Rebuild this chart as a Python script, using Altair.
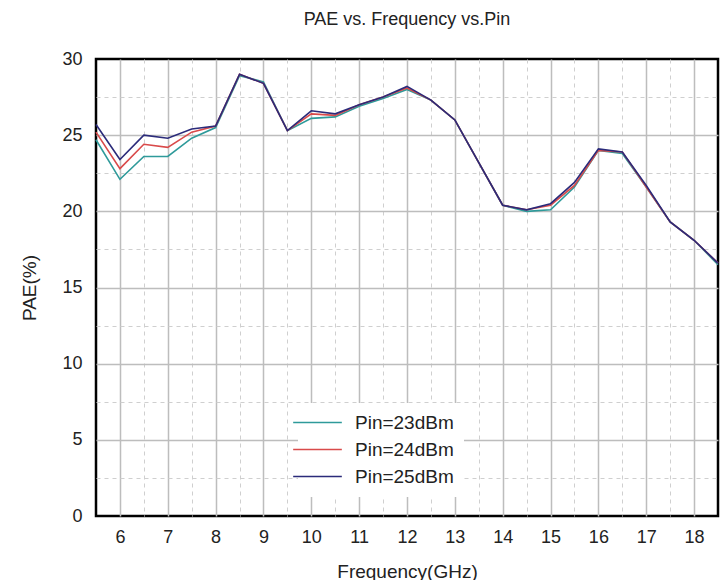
import altair as alt
import pandas as pd

freq = [5.5, 6, 6.5, 7, 7.5, 8, 8.5, 9, 9.5, 10, 10.5, 11, 11.5, 12, 12.5,
        13, 13.5, 14, 14.5, 15, 15.5, 16, 16.5, 17, 17.5, 18, 18.5]
pae_23 = [24.7, 22.1, 23.6, 23.6, 24.8, 25.5, 28.9, 28.5, 25.3, 26.1, 26.2, 26.9, 27.4, 28.0,
          27.3, 26.0, 23.2, 20.4, 20.0, 20.1, 21.6, 24.0, 23.8, 21.6, 19.3, 18.1, 16.5]
pae_24 = [25.2, 22.8, 24.4, 24.2, 25.2, 25.6, 29.0, 28.4, 25.3, 26.4, 26.3, 27.0, 27.5, 28.1,
          27.3, 26.0, 23.2, 20.4, 20.1, 20.4, 21.7, 24.0, 23.9, 21.6, 19.3, 18.1, 16.6]
pae_25 = [25.7, 23.4, 25.0, 24.8, 25.4, 25.6, 29.0, 28.4, 25.3, 26.6, 26.4, 27.0, 27.5, 28.2,
          27.3, 26.0, 23.2, 20.4, 20.1, 20.5, 21.9, 24.1, 23.9, 21.7, 19.3, 18.1, 16.6]
series_names = ["Pin=23dBm", "Pin=24dBm", "Pin=25dBm"]
series_colors = ["#2e9a9a", "#d94a4a", "#2b2b7a"]

x_grid = [5.5, 6, 6.5, 7, 7.5, 8, 8.5, 9, 9.5, 10, 10.5, 11, 11.5, 12, 12.5,
          13, 13.5, 14, 14.5, 15, 15.5, 16, 16.5, 17, 17.5, 18, 18.5]
y_grid = [0, 2.5, 5, 7.5, 10, 12.5, 15, 17.5, 20, 22.5, 25, 27.5, 30]

rows = []
for name, vals in zip(series_names, [pae_23, pae_24, pae_25]):
    for f, v in zip(freq, vals):
        rows.append({"freq": f, "pae": v, "series": name})
df = pd.DataFrame(rows)

FONT = "Liberation Sans"

minor_x = "datum.value % 1 !== 0"
minor_y = "datum.value % 5 !== 0"
edge_x = "datum.value <= 5.5 || datum.value >= 18.5"
edge_y = "datum.value <= 0 || datum.value >= 30"

x_axis = alt.Axis(
    values=x_grid,
    labelExpr="datum.value % 1 === 0 ? format(datum.value, 'd') : ''",
    grid=True,
    gridColor={"condition": {"test": minor_x, "value": "#cfcfcf"}, "value": "#bdbdbd"},
    gridDash={"condition": {"test": minor_x, "value": [4, 4]}, "value": []},
    gridWidth={"condition": {"test": minor_x, "value": 1}, "value": 1.5},
    gridOpacity={"condition": {"test": edge_x, "value": 0}, "value": 1},
    ticks=False, domain=False,
    labelFont=FONT, labelFontSize=18, labelColor="#222", labelPadding=12,
    title="Frequency(GHz)", titleFont=FONT, titleFontSize=19,
    titleFontWeight="normal", titleColor="#222", titlePadding=16,
)
y_axis = alt.Axis(
    values=y_grid,
    labelExpr="datum.value % 5 === 0 ? format(datum.value, 'd') : ''",
    grid=True,
    gridColor={"condition": {"test": minor_y, "value": "#cfcfcf"}, "value": "#bdbdbd"},
    gridDash={"condition": {"test": minor_y, "value": [4, 4]}, "value": []},
    gridWidth={"condition": {"test": minor_y, "value": 1}, "value": 1.5},
    gridOpacity={"condition": {"test": edge_y, "value": 0}, "value": 1},
    ticks=False, domain=False,
    labelFont=FONT, labelFontSize=18, labelColor="#222", labelPadding=14,
    title="PAE(%)", titleFont=FONT, titleFontSize=19,
    titleFontWeight="normal", titleColor="#222", titlePadding=22,
)

legend = alt.Legend(
    orient="none", legendX=202, legendY=344, title=None,
    fillColor="white", padding=10,
    symbolType="M-4,0H4", symbolSize=148, symbolStrokeWidth=1.5,
    labelFont=FONT, labelFontSize=19, labelColor="#222", labelOffset=28,
    rowPadding=7,
)

chart = alt.Chart(df).mark_line(strokeWidth=1.6).encode(
    x=alt.X("freq:Q", scale=alt.Scale(domain=[5.5, 18.5], nice=False, zero=False), axis=x_axis),
    y=alt.Y("pae:Q", scale=alt.Scale(domain=[0, 30], nice=False), axis=y_axis),
    color=alt.Color("series:N", scale=alt.Scale(domain=series_names, range=series_colors),
                    legend=legend),
    order=alt.Order("series:N"),
).properties(
    width=622, height=457,
    background="white",
    title=alt.TitleParams("PAE vs. Frequency vs.Pin", font=FONT, fontSize=18,
                          fontWeight="normal", color="#222", anchor="middle", offset=21),
    autosize=alt.AutoSizeParams(type="none"),
    padding={"left": 88, "top": 51, "right": 2, "bottom": 64},
).configure_view(stroke="black", strokeWidth=2.5)

chart.save("out.html", embed_options={"renderer": "svg", "actions": False})
